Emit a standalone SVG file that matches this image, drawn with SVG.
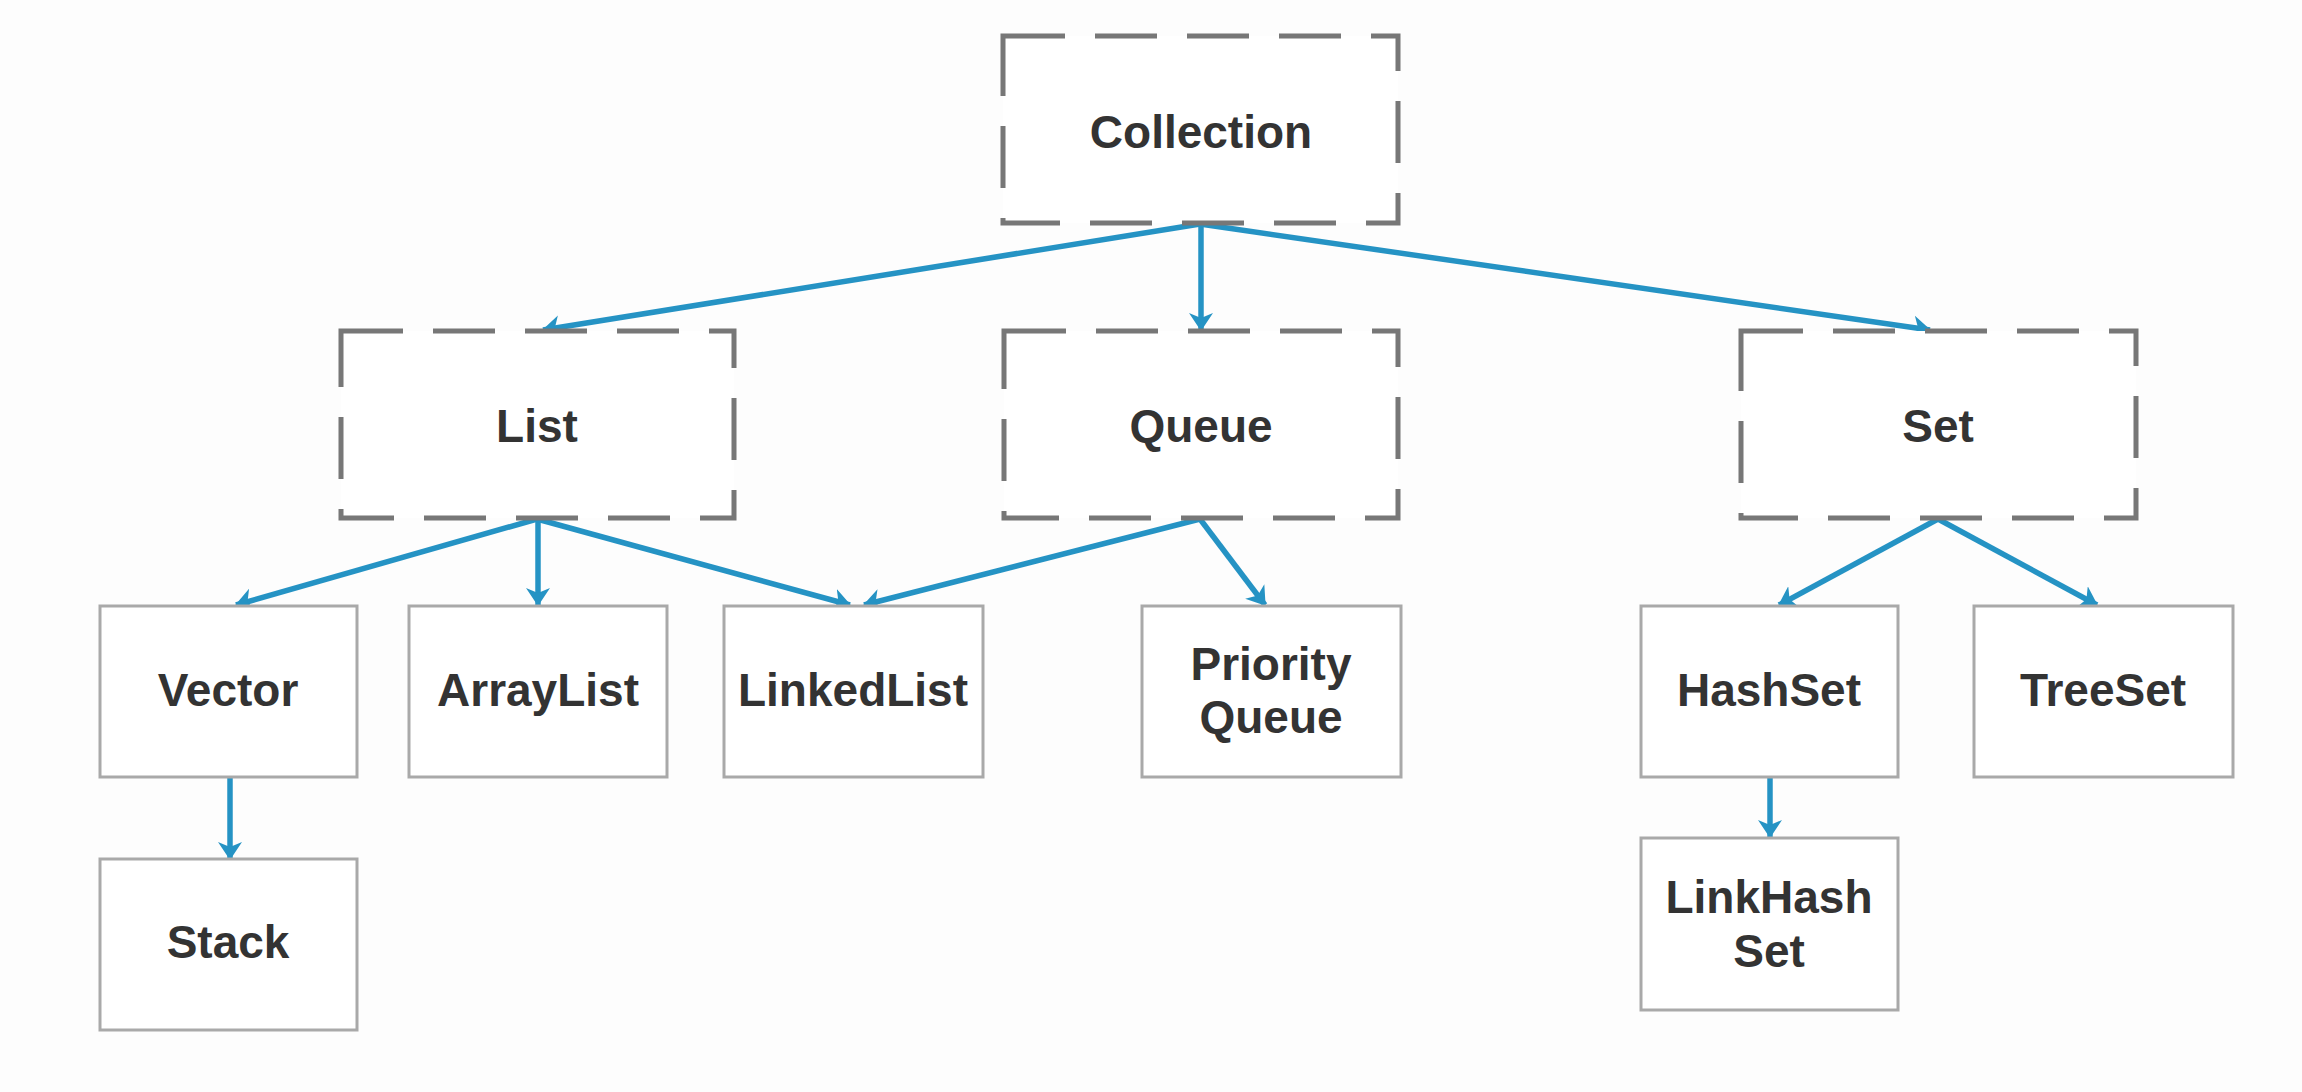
<svg xmlns="http://www.w3.org/2000/svg" width="2302" height="1092" viewBox="0 0 2302 1092">
<style>
.bg{fill:#fdfdfd}
.dash{fill:#ffffff;stroke:#777777;stroke-width:5;stroke-dasharray:62 30}
.solid{fill:#ffffff;stroke:#a9a9a9;stroke-width:3}
.lbl{font-family:"Liberation Sans",Arial,sans-serif;font-weight:bold;font-size:46px;fill:#333333;text-anchor:middle}
.conn{stroke:#2593c4;stroke-width:5.5;fill:none;marker-end:url(#arr)}
</style>
<defs>
<marker id="arr" viewBox="0 0 18 26" refX="17" refY="13" markerWidth="18" markerHeight="26" markerUnits="userSpaceOnUse" orient="auto">
<path d="M0,1 L18,13 L0,25 L5,13 z" fill="#2593c4"/>
</marker>
</defs>
<rect class="bg" x="0" y="0" width="2302" height="1092"/>

<g id="connectors">
<line class="conn" x1="1200" y1="224" x2="543" y2="330"/>
<line class="conn" x1="1201" y1="224" x2="1201" y2="330"/>
<line class="conn" x1="1200" y1="224" x2="1930" y2="330"/>
<line class="conn" x1="537" y1="519" x2="236" y2="605"/>
<line class="conn" x1="538" y1="519" x2="538" y2="605"/>
<line class="conn" x1="537" y1="519" x2="850" y2="605"/>
<line class="conn" x1="1200" y1="519" x2="864" y2="605"/>
<line class="conn" x1="1200" y1="519" x2="1265" y2="605"/>
<line class="conn" x1="1938" y1="519" x2="1779" y2="605"/>
<line class="conn" x1="1938" y1="519" x2="2097" y2="605"/>
<line class="conn" x1="230" y1="778" x2="230" y2="859"/>
<line class="conn" x1="1770" y1="778" x2="1770" y2="837"/>
</g>

<g id="collection">
<rect class="dash" x="1003" y="36" width="395" height="187"/>
<text class="lbl" x="1201" y="148">Collection</text>
</g>
<g id="list">
<rect class="dash" x="341" y="331" width="393" height="187"/>
<text class="lbl" x="537" y="442">List</text>
</g>
<g id="queue">
<rect class="dash" x="1004" y="331" width="394" height="187"/>
<text class="lbl" x="1201" y="442">Queue</text>
</g>
<g id="set">
<rect class="dash" x="1741" y="331" width="395" height="187"/>
<text class="lbl" x="1938" y="442">Set</text>
</g>

<g id="vector">
<rect class="solid" x="100" y="606" width="257" height="171"/>
<text class="lbl" x="228" y="706">Vector</text>
</g>
<g id="arraylist">
<rect class="solid" x="409" y="606" width="258" height="171"/>
<text class="lbl" x="538" y="706">ArrayList</text>
</g>
<g id="linkedlist">
<rect class="solid" x="724" y="606" width="259" height="171"/>
<text class="lbl" x="853" y="706">LinkedList</text>
</g>
<g id="priorityqueue">
<rect class="solid" x="1142" y="606" width="259" height="171"/>
<text class="lbl" x="1271" y="680">Priority</text>
<text class="lbl" x="1271" y="733">Queue</text>
</g>
<g id="hashset">
<rect class="solid" x="1641" y="606" width="257" height="171"/>
<text class="lbl" x="1769" y="706">HashSet</text>
</g>
<g id="treeset">
<rect class="solid" x="1974" y="606" width="259" height="171"/>
<text class="lbl" x="2103" y="706">TreeSet</text>
</g>
<g id="stack">
<rect class="solid" x="100" y="859" width="257" height="171"/>
<text class="lbl" x="228" y="958">Stack</text>
</g>
<g id="linkhashset">
<rect class="solid" x="1641" y="838" width="257" height="172"/>
<text class="lbl" x="1769" y="913">LinkHash</text>
<text class="lbl" x="1769" y="967">Set</text>
</g>
</svg>
